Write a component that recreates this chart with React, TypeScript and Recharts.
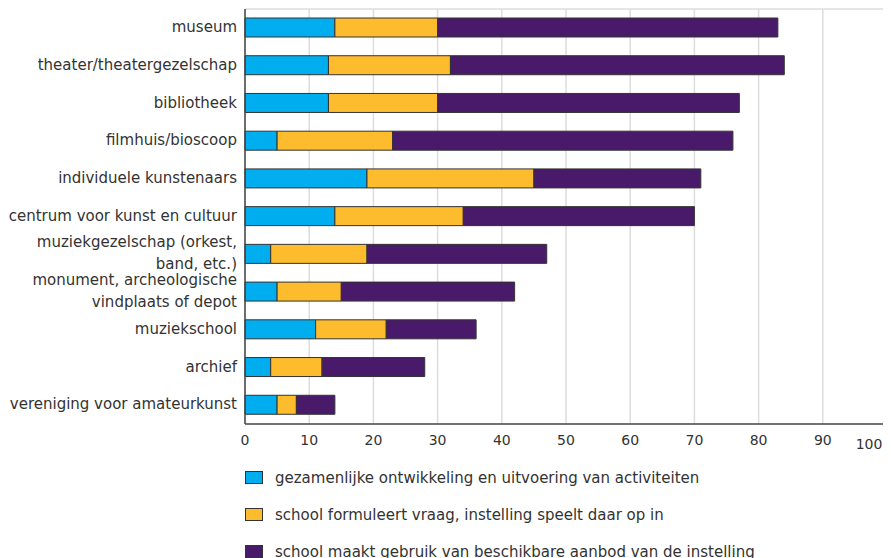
import { BarChart, Bar, XAxis, YAxis, CartesianGrid, Legend } from "recharts";

const categories = [
  "museum",
  "theater/theatergezelschap",
  "bibliotheek",
  "filmhuis/bioscoop",
  "individuele kunstenaars",
  "centrum voor kunst en cultuur",
  "muziekgezelschap (orkest,\nband, etc.)",
  "monument, archeologische\nvindplaats of depot",
  "muziekschool",
  "archief",
  "vereniging voor amateurkunst",
];
const gezamenlijk = [14, 13, 13, 5, 19, 14, 4, 5, 11, 4, 5];
const schoolVraag = [16, 19, 17, 18, 26, 20, 15, 10, 11, 8, 3];
const aanbod = [53, 52, 47, 53, 26, 36, 28, 27, 14, 16, 6];
const xTicks = [0, 10, 20, 30, 40, 50, 60, 70, 80, 90, 100];

const seriesNames = [
  "gezamenlijke ontwikkeling en uitvoering van activiteiten",
  "school formuleert vraag, instelling speelt daar op in",
  "school maakt gebruik van beschikbare aanbod van de instelling",
];

const data = categories.map((name, i) => ({
  name,
  a: gezamenlijk[i],
  b: schoolVraag[i],
  c: aanbod[i],
}));

const font = "'DejaVu Sans', sans-serif";
const textColor = "#333";

function CategoryTick({ x, y, payload }: any) {
  const lines = String(payload.value).split("\n");
  const lineHeight = 22;
  return (
    <text x={x} y={y} textAnchor="end" fill={textColor} fontSize={15} fontFamily={font}>
      {lines.map((line, i) => (
        <tspan key={i} x={x} y={y + (i - (lines.length - 1) / 2) * lineHeight - 1} dy="0.35em">
          {line}
        </tspan>
      ))}
    </text>
  );
}

function ValueTick({ x, y, payload }: any) {
  // the last label sits a bit to the left and lower in the original
  const last = payload.value === 100;
  return (
    <text
      x={last ? x - 10 : x}
      y={y + (last ? 7 : 3)}
      dy="0.71em"
      textAnchor="middle"
      fill={textColor}
      fontSize={14}
      fontFamily={font}
    >
      {payload.value}
    </text>
  );
}

function renderLegend(props: any) {
  const { payload = [] } = props;
  return (
    <div style={{ fontFamily: font, fontSize: 15, color: textColor }}>
      {payload.map((entry: any) => (
        <div
          key={entry.value}
          style={{ display: "flex", alignItems: "center", height: 37 }}
        >
          <span
            style={{
              display: "inline-block",
              width: 16,
              height: 11,
              background: entry.color,
              border: "1px solid #333",
              marginRight: 12,
            }}
          />
          <span>{entry.value}</span>
        </div>
      ))}
    </div>
  );
}

export default function App() {
  return (
    <div style={{ fontFamily: font }}>
      <BarChart
        width={883}
        height={550}
        data={data}
        layout="vertical"
        margin={{ top: 1, right: 4, left: 0, bottom: 104 }}
        barSize={19}
      >
        <CartesianGrid
          stroke="#dddddd"
          strokeWidth={1.5}
          horizontalCoordinatesGenerator={({ offset }: any) => [offset.top]}
        />
        <XAxis
          type="number"
          domain={[0, 100]}
          ticks={xTicks}
          tickLine={false}
          axisLine={{ stroke: "#444", strokeWidth: 1.5 }}
          tick={<ValueTick />}
          height={30}
        />
        <YAxis
          type="category"
          dataKey="name"
          width={237}
          interval={0}
          tickLine={false}
          axisLine={{ stroke: "#444", strokeWidth: 1.5 }}
          tick={<CategoryTick />}
        />
        <Bar dataKey="a" name={seriesNames[0]} stackId="s" fill="#00AEEF" stroke="#333" strokeWidth={1} isAnimationActive={false} />
        <Bar dataKey="b" name={seriesNames[1]} stackId="s" fill="#FDBB2E" stroke="#333" strokeWidth={1} isAnimationActive={false} />
        <Bar dataKey="c" name={seriesNames[2]} stackId="s" fill="#4A1A6A" stroke="#333" strokeWidth={1} isAnimationActive={false} />
        <Legend
          layout="vertical"
          align="center"
          verticalAlign="middle"
          content={renderLegend}
          wrapperStyle={{ top: 451, left: 237, width: 640, height: 111 }}
        />
      </BarChart>
    </div>
  );
}
